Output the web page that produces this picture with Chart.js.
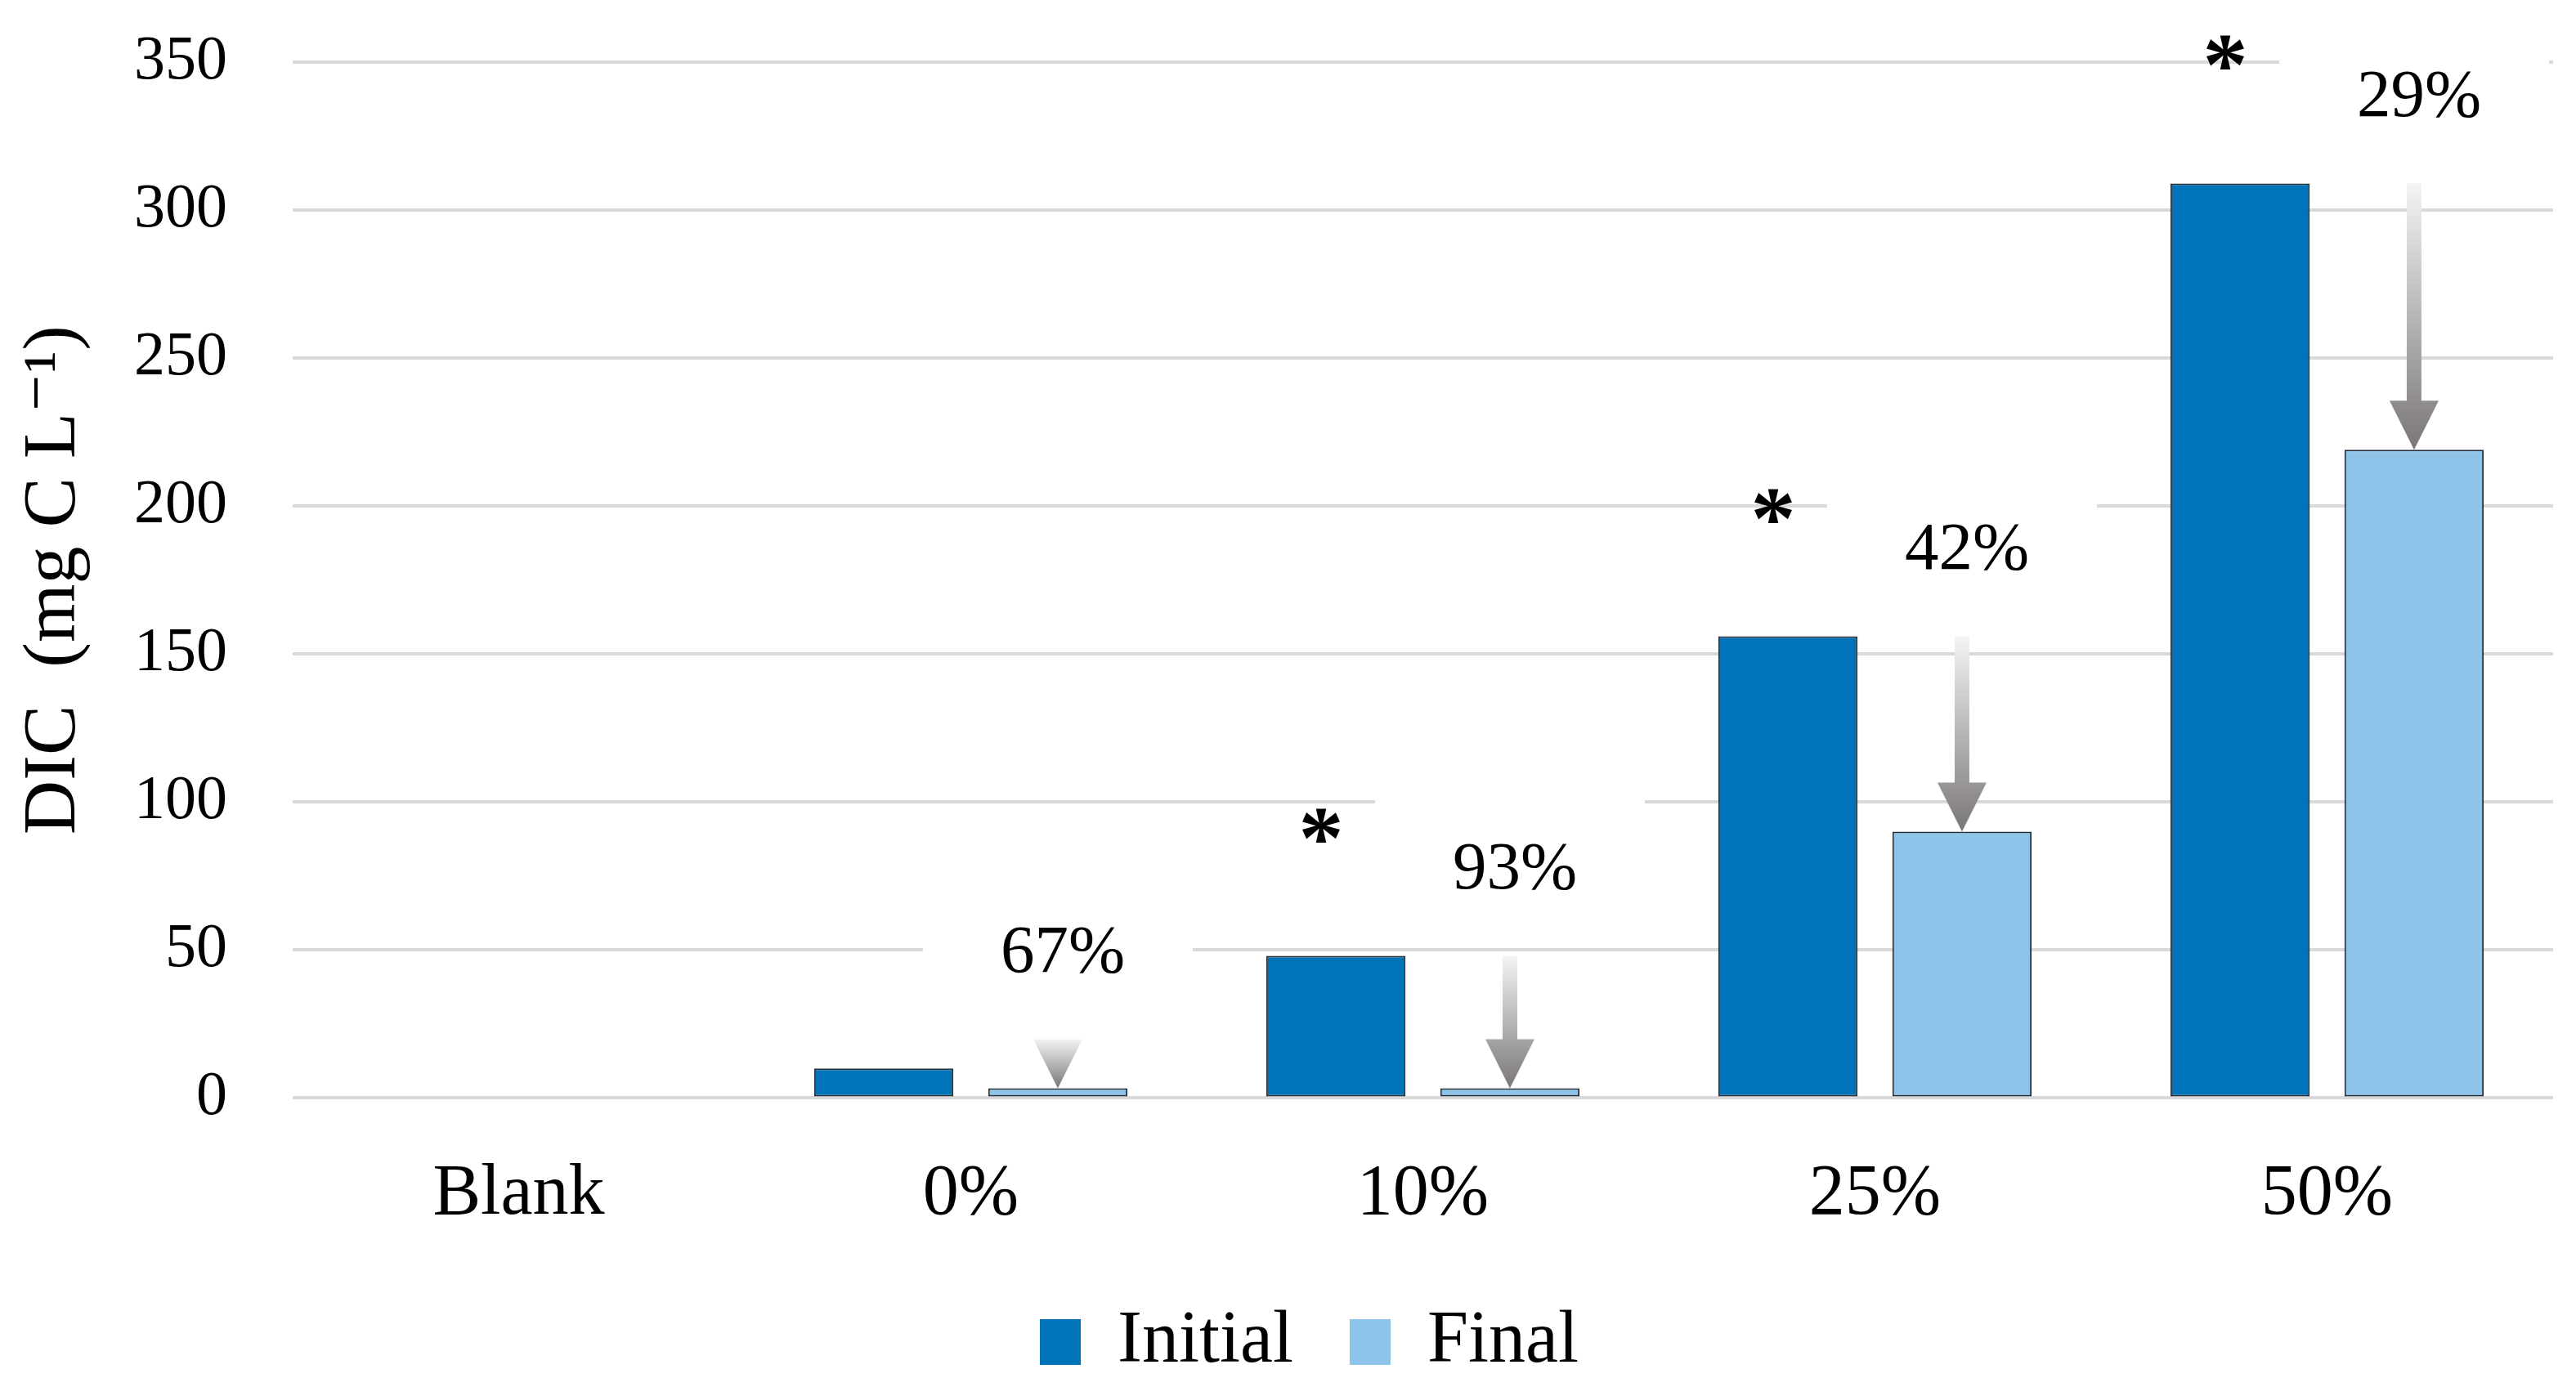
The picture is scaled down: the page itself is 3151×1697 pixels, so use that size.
<!DOCTYPE html>
<html>
<head>
<meta charset="utf-8">
<script src="https://cdn.jsdelivr.net/npm/chart.js@4.4.1/dist/chart.umd.min.js"></script>
<style>
  html, body { margin: 0; padding: 0; background: #fff; }
</style>
</head>
<body>
<canvas id="myChart" width="3151" height="1697"></canvas>
<script>
// Données
const categories = ["Blank", "0%", "10%", "25%", "50%"];
const initialValues = [0, 10, 48, 156, 309];
const finalValues = [0, 3.3, 3.3, 90, 219];
const reductionLabels = ["", "67%", "93%", "42%", "29%"];
const significant = [false, false, true, true, true];
const yTicks = [0, 50, 100, 150, 200, 250, 300, 350];

const FONT = "'Liberation Serif', 'DejaVu Serif', serif";
Chart.defaults.font.family = FONT;
Chart.defaults.color = "#000";

// Position verticale de départ de la flèche (tête seule si l'écart est trop petit)
const HEAD = 60;
const arrowTop = (chart, i) => {
  const y = chart.scales.y;
  const yStart = y.getPixelForValue(initialValues[i]);
  const yEnd = y.getPixelForValue(finalValues[i]);
  return Math.min(yStart, yEnd - HEAD);
};

// Plugin : cadres blancs, flèches, pourcentages et astérisques
const annotations = {
  id: "annotations",
  afterLayout(chart) {
    // légende un peu décalée vers la droite, comme sur la figure
    chart.legend.left += 40;
    chart.legend.right += 40;
  },
  beforeDatasetsDraw(chart) {
    const ctx = chart.ctx;
    const metaF = chart.getDatasetMeta(1);
    ctx.save();
    ctx.fillStyle = "#fff";
    reductionLabels.forEach((txt, i) => {
      if (!txt) return;
      const ly = arrowTop(chart, i) - 115;
      ctx.fillRect(metaF.data[i].x - 165, ly - 80, 330, 130);
    });
    ctx.restore();
  },
  afterDatasetsDraw(chart) {
    const ctx = chart.ctx;
    const y = chart.scales.y;
    const metaI = chart.getDatasetMeta(0);
    const metaF = chart.getDatasetMeta(1);
    ctx.save();
    reductionLabels.forEach((txt, i) => {
      if (!txt) return;
      const x = metaF.data[i].x;
      const yEnd = y.getPixelForValue(finalValues[i]);
      const yStart = arrowTop(chart, i);
      const grad = ctx.createLinearGradient(0, yStart, 0, yEnd);
      grad.addColorStop(0, "#f4f4f4");
      grad.addColorStop(1, "#7a7676");
      ctx.fillStyle = grad;
      ctx.beginPath();
      ctx.moveTo(x - 9, yStart);
      ctx.lineTo(x + 9, yStart);
      ctx.lineTo(x + 9, yEnd - HEAD);
      ctx.lineTo(x + 30, yEnd - HEAD);
      ctx.lineTo(x, yEnd);
      ctx.lineTo(x - 30, yEnd - HEAD);
      ctx.lineTo(x - 9, yEnd - HEAD);
      ctx.closePath();
      ctx.fill();

      ctx.fillStyle = "#000";
      ctx.font = "83px " + FONT;
      ctx.textAlign = "center";
      ctx.textBaseline = "middle";
      ctx.fillText(txt, x + 6, yStart - 104);
    });
    significant.forEach((s, i) => {
      if (!s) return;
      const x = metaI.data[i].x - 18;
      const yTop = y.getPixelForValue(initialValues[i]);
      ctx.fillStyle = "#000";
      ctx.font = "bold 110px " + FONT;
      ctx.textAlign = "center";
      ctx.textBaseline = "alphabetic";
      ctx.fillText("*", x, yTop - 108);
    });
    ctx.restore();
  }
};

const ctx = document.getElementById("myChart").getContext("2d");
const chart = new Chart(ctx, {
  type: "bar",
  data: {
    labels: categories,
    datasets: [
      {
        label: "Initial",
        data: initialValues,
        backgroundColor: "#0073B9",
        borderColor: "#26303a",
        borderWidth: (c) => (c.raw ? 2 : 0),
        borderSkipped: false,
      },
      {
        label: "Final",
        data: finalValues,
        backgroundColor: "#8EC4E9",
        borderColor: "#26303a",
        borderWidth: (c) => (c.raw ? 2 : 0),
        borderSkipped: false,
      },
    ],
  },
  options: {
    responsive: false,
    animation: false,
    devicePixelRatio: 1,
    categoryPercentage: 0.77,
    barPercentage: 0.8,
    layout: { padding: { top: 76, right: 28, left: 0, bottom: 0 } },
    plugins: {
      tooltip: { enabled: false },
      legend: {
        position: "bottom",
        labels: {
          boxWidth: 50,
          boxHeight: 56,
          padding: 24,
          font: { size: 90 },
          color: "#000",
          // espace supplémentaire après « Initial »
          generateLabels: (chart) =>
            Chart.defaults.plugins.legend.labels
              .generateLabels(chart)
              .map((l, i) => ({ ...l, text: i === 0 ? l.text + "\u2002" : l.text })),
        },
      },
    },
    scales: {
      x: {
        grid: { display: false },
        border: { display: false },
        ticks: { font: { size: 88 }, padding: 58, color: "#000" },
      },
      y: {
        min: 0,
        max: 350,
        afterBuildTicks: (scale) => {
          scale.ticks = yTicks.map((v) => ({ value: v }));
        },
        afterFit: (scale) => {
          scale.width = 358;
          scale.paddingTop = 0;
          scale.paddingBottom = 0;
        },
        grid: { color: "#d9d9d9", lineWidth: 4, drawTicks: false },
        border: { display: false },
        ticks: { font: { size: 76 }, padding: 80, color: "#000" },
        title: {
          display: true,
          text: "DIC  (mg C L\u207B\u00B9)",
          font: { size: 92 },
          color: "#000",
          padding: { top: 12, bottom: 0 },
        },
      },
    },
  },
  plugins: [annotations],
});
</script>
</body>
</html>
